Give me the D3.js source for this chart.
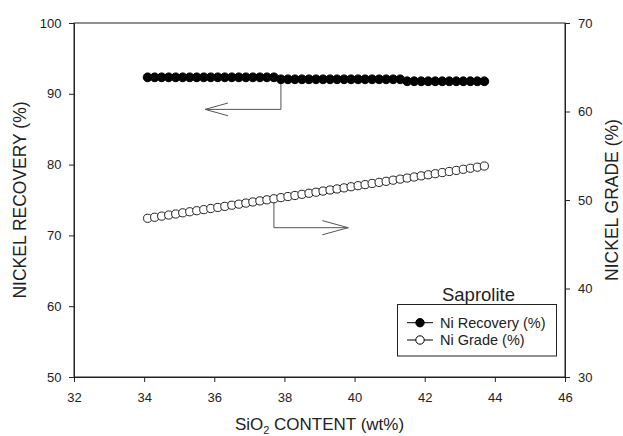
<!DOCTYPE html>
<html><head><meta charset="utf-8">
<script src="https://cdn.jsdelivr.net/npm/d3@7"></script>
<style>body{margin:0;background:#fff}svg{display:block;font-family:Arial,"Liberation Sans",sans-serif}</style>
</head><body><svg id="c" width="623" height="436"></svg>
<script>
const sio2 = [34.1,34.3,34.5,34.7,34.9,35.1,35.3,35.5,35.7,35.9,36.1,36.3,36.5,36.7,36.9,37.1,37.3,37.5,37.7,37.9,38.1,38.3,38.5,38.7,38.9,39.1,39.3,39.5,39.7,39.9,40.1,40.3,40.5,40.7,40.9,41.1,41.3,41.5,41.7,41.9,42.1,42.3,42.5,42.7,42.9,43.1,43.3,43.5,43.7];
const niRecovery = [92.33,92.33,92.33,92.33,92.33,92.33,92.33,92.33,92.33,92.33,92.33,92.33,92.33,92.33,92.33,92.33,92.33,92.33,92.33,
  92.05,92.05,92.05,92.05,92.05,92.05,92.05,92.05,92.05,92.05,92.05,92.05,92.05,92.05,92.05,92.05,92.05,92.05,
  91.77,91.77,91.77,91.77,91.77,91.77,91.77,91.77,91.77,91.77,91.77,91.77];
const niGrade = [47.93,48.05,48.18,48.30,48.42,48.55,48.67,48.79,48.91,49.04,49.16,49.28,49.41,49.53,49.65,49.78,49.90,50.02,50.14,50.27,50.39,50.51,50.64,50.76,50.88,51.01,51.13,51.25,51.37,51.50,51.62,51.74,51.87,51.99,52.11,52.24,52.36,52.48,52.60,52.73,52.85,52.97,53.10,53.22,53.34,53.47,53.59,53.71,53.84];
const xTicks = [32,34,36,38,40,42,44,46];
const yLeftTicks = [50,60,70,80,90,100];
const yRightTicks = [30,40,50,60,70];
const seriesNames = ["Ni Recovery (%)","Ni Grade (%)"];
const legendTitle = "Saprolite";
// annotation arrows (data coords)
const arrowRec = {x:37.9, y0:92.05, y1:87.8, tip:35.74, back:36.39, dy:0.9};   // left axis
const arrowGrade = {x:37.7, y0:50.14, y1:46.87, tip:39.82, back:39.08, dy:0.8}; // right axis

const svg = d3.select("#c");
const L=74,R=565,T=23,B=377;
const x = d3.scaleLinear().domain([32,46]).range([L,R]);
const yL = d3.scaleLinear().domain([50,100]).range([B,T]);
const yR = d3.scaleLinear().domain([30,70]).range([B,T]);
const ink="#222";

svg.append("rect").attr("x",L).attr("y",T).attr("width",R-L).attr("height",B-T)
  .attr("fill","none").attr("stroke",ink).attr("stroke-width",1);

function styleAxis(g){
  g.select(".domain").attr("stroke",ink);
  g.selectAll(".tick line").attr("stroke",ink);
  g.selectAll(".tick text").attr("fill",ink).attr("font-size",13).attr("font-family","Arial,'Liberation Sans',sans-serif");
}
svg.append("g").attr("transform",`translate(0,${B})`)
  .call(d3.axisBottom(x).tickValues(xTicks).tickSize(5).tickPadding(11).tickFormat(d3.format("d")))
  .call(styleAxis);
svg.append("g").attr("transform",`translate(${L},0)`)
  .call(d3.axisLeft(yL).tickValues(yLeftTicks).tickSize(5).tickPadding(7.5).tickFormat(d3.format("d")))
  .call(styleAxis);
svg.append("g").attr("transform",`translate(${R},0)`)
  .call(d3.axisRight(yR).tickValues(yRightTicks).tickSize(5).tickPadding(8).tickFormat(d3.format("d")))
  .call(styleAxis);

const xt = svg.append("text").attr("x",(L+R)/2).attr("y",430).attr("text-anchor","middle")
  .attr("font-size",17).attr("fill",ink);
xt.append("tspan").text("SiO");
xt.append("tspan").attr("font-size",11).attr("dy",4).text("2");
xt.append("tspan").attr("dy",-4).text(" CONTENT (wt%)");
svg.append("text").attr("transform",`translate(26,${(T+B)/2}) rotate(-90)`).attr("text-anchor","middle")
  .attr("font-size",17.5).attr("fill",ink).text("NICKEL RECOVERY (%)");
svg.append("text").attr("transform",`translate(618,${(T+B)/2}) rotate(-90)`).attr("text-anchor","middle")
  .attr("font-size",17.5).attr("fill",ink).text("NICKEL GRADE (%)");

const arrowCol="#555";
function arrow(a, ys){
  const g=svg.append("g").attr("stroke",arrowCol).attr("fill","none").attr("stroke-width",1);
  g.append("path").attr("d",`M${x(a.x)},${ys(a.y0)}V${ys(a.y1)}H${x(a.tip)}`);
  g.append("path").attr("d",`M${x(a.back)},${ys(a.y1+a.dy)}L${x(a.tip)},${ys(a.y1)}L${x(a.back)},${ys(a.y1-a.dy)}`);
}
arrow(arrowRec,yL);
arrow(arrowGrade,yR);

const recData = sio2.map((d,i)=>[d,niRecovery[i]]);
const grdData = sio2.map((d,i)=>[d,niGrade[i]]);
svg.append("path").datum(recData).attr("fill","none").attr("stroke","#000")
  .attr("d",d3.line().x(d=>x(d[0])).y(d=>yL(d[1])));
svg.append("path").datum(grdData).attr("fill","none").attr("stroke","#000")
  .attr("d",d3.line().x(d=>x(d[0])).y(d=>yR(d[1])));
svg.append("g").selectAll("circle").data(recData).join("circle")
  .attr("cx",d=>x(d[0])).attr("cy",d=>yL(d[1])).attr("r",4.4)
  .attr("fill","#000").attr("stroke","#000").attr("stroke-width",1);
svg.append("g").selectAll("circle").data(grdData).join("circle")
  .attr("cx",d=>x(d[0])).attr("cy",d=>yR(d[1])).attr("r",4.1)
  .attr("fill","#fff").attr("stroke","#222").attr("stroke-width",1);

const lg = svg.append("g");
lg.append("text").attr("x",478.5).attr("y",300.7).attr("text-anchor","middle").attr("font-size",18.5)
  .attr("fill",ink).text(legendTitle);
lg.append("rect").attr("x",397.5).attr("y",304.5).attr("width",159).attr("height",51.5)
  .attr("fill","#fff").attr("stroke",ink);
seriesNames.forEach((n,i)=>{
  const yy = 322.7 + i*17.3;
  lg.append("line").attr("x1",407).attr("x2",433).attr("y1",yy).attr("y2",yy).attr("stroke","#000");
  lg.append("circle").attr("cx",420).attr("cy",yy).attr("r",4.2)
    .attr("fill",i===0?"#000":"#fff").attr("stroke","#000");
  lg.append("text").attr("x",440).attr("y",yy+5).attr("font-size",14.5).attr("fill",ink).text(n);
});
</script></body></html>
